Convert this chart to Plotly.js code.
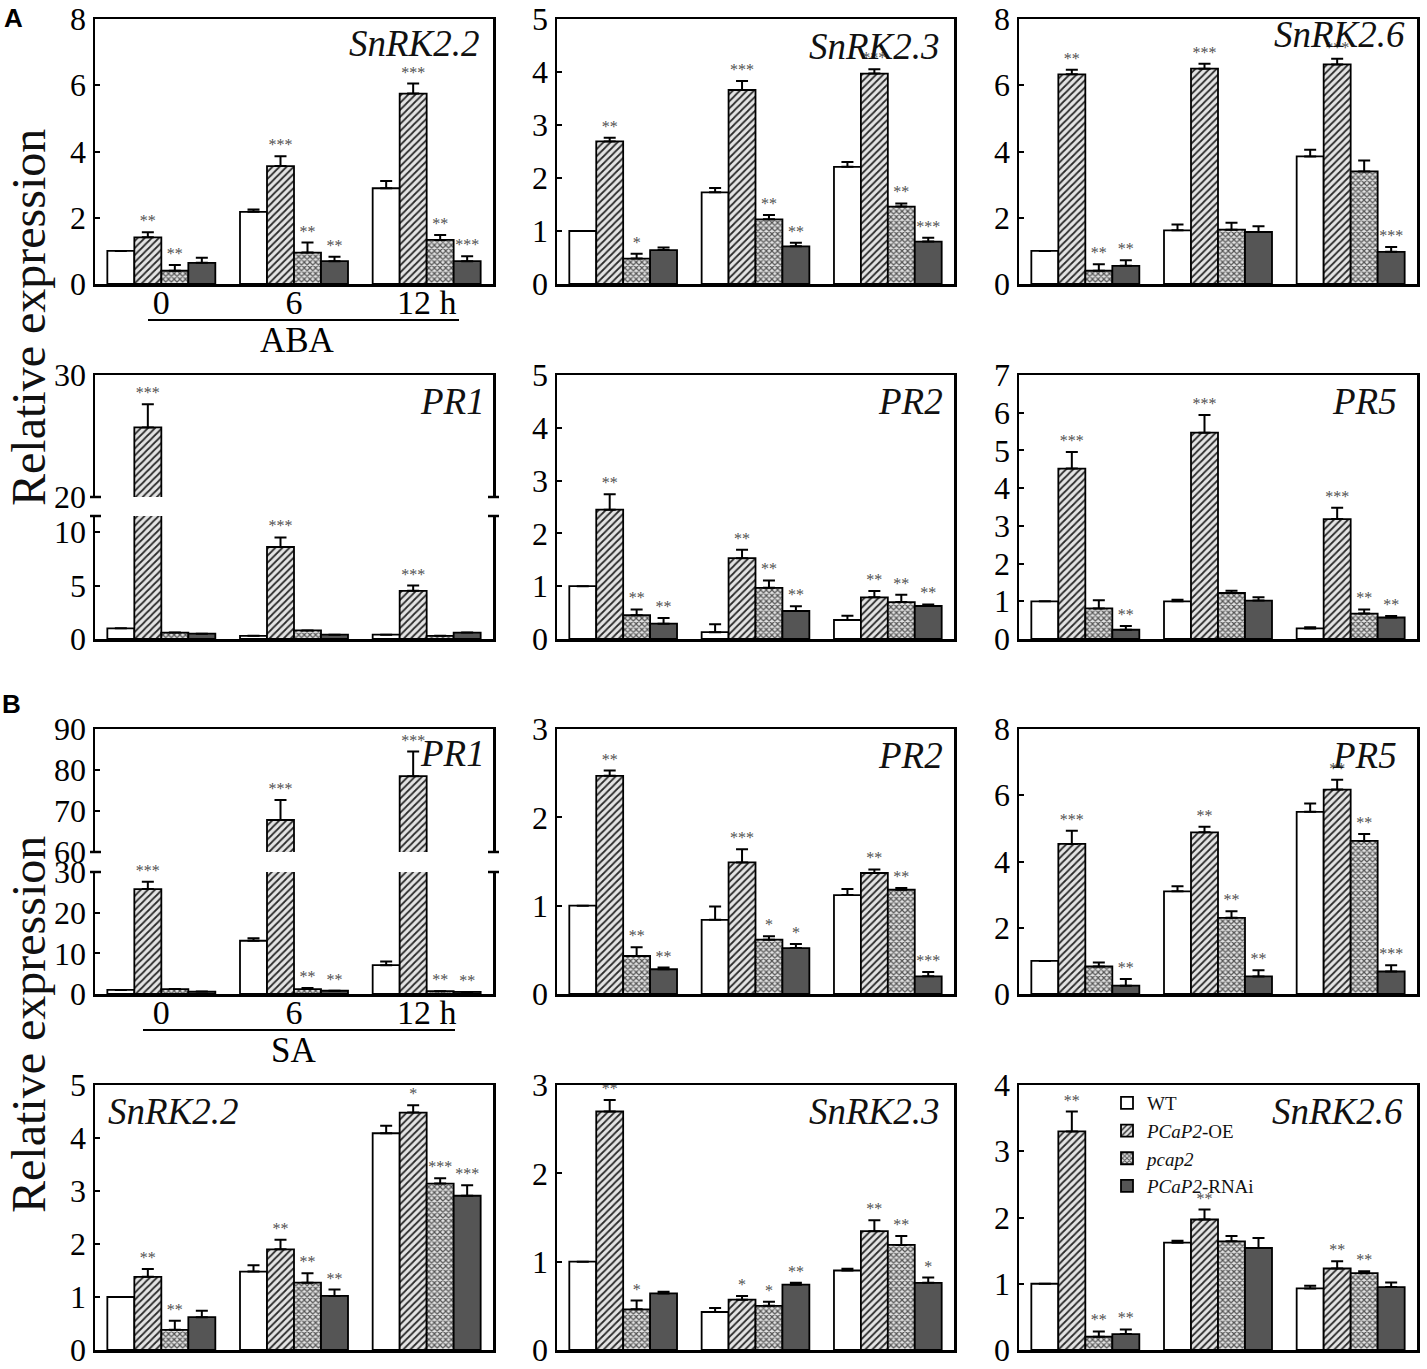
<!DOCTYPE html>
<html>
<head>
<meta charset="utf-8">
<script src="https://cdn.plot.ly/plotly-3.0.1.min.js"></script>
<style>html,body{margin:0;padding:0;background:#fff;}#chart{width:1427px;height:1369px;}</style>
</head>
<body>
<div id="chart"></div>
<script>
// ---------------- DATA ----------------
const groups = ['0', '6', '12 h'];
const seriesNames = ['WT', '<i>PCaP2</i>-OE', '<i>pcap2</i>', '<i>PCaP2</i>-RNAi'];

// order of each array: [WT, PCaP2-OE, pcap2, PCaP2-RNAi], each [0 h, 6 h, 12 h]
const A_SnRK22_val = [[1.0, 2.18, 2.89], [1.41, 3.56, 5.75], [0.40, 0.95, 1.33], [0.64, 0.69, 0.69]];
const A_SnRK22_err = [[0, 0.07, 0.22], [0.15, 0.30, 0.30], [0.17, 0.30, 0.15], [0.15, 0.13, 0.15]];
const A_SnRK22_sig = [['', '', ''], ['**', '***', '***'], ['**', '**', '**'], ['', '**', '***']];

const A_SnRK23_val = [[1.0, 1.73, 2.21], [2.69, 3.66, 3.97], [0.48, 1.22, 1.46], [0.64, 0.71, 0.80]];
const A_SnRK23_err = [[0, 0.08, 0.09], [0.07, 0.17, 0.08], [0.09, 0.08, 0.06], [0.05, 0.07, 0.075]];
const A_SnRK23_sig = [['', '', ''], ['**', '***', '***'], ['*', '**', '**'], ['', '**', '***']];

const A_SnRK26_val = [[1.0, 1.62, 3.85], [6.33, 6.50, 6.63], [0.40, 1.64, 3.40], [0.55, 1.57, 0.97]];
const A_SnRK26_err = [[0, 0.18, 0.20], [0.14, 0.15, 0.17], [0.20, 0.21, 0.33], [0.17, 0.17, 0.15]];
const A_SnRK26_sig = [['', '', ''], ['**', '***', '***'], ['**', '', ''], ['**', '', '***']];

const A_PR1_val = [[1.0, 0.3, 0.4], [25.7, 8.6, 4.5], [0.6, 0.8, 0.3], [0.5, 0.4, 0.6]];
const A_PR1_err = [[0, 0, 0], [1.9, 0.9, 0.5], [0, 0, 0], [0, 0, 0]];
const A_PR1_sig = [['', '', ''], ['***', '***', '***'], ['', '', ''], ['', '', '']];

const A_PR2_val = [[1.0, 0.13, 0.36], [2.45, 1.53, 0.79], [0.45, 0.97, 0.70], [0.29, 0.53, 0.625]];
const A_PR2_err = [[0, 0.15, 0.08], [0.29, 0.16, 0.12], [0.11, 0.14, 0.14], [0.11, 0.09, 0.03]];
const A_PR2_sig = [['', '', ''], ['**', '**', '**'], ['**', '**', '**'], ['**', '**', '**']];

const A_PR5_val = [[1.0, 1.0, 0.28], [4.52, 5.47, 3.18], [0.81, 1.22, 0.675], [0.245, 1.02, 0.57]];
const A_PR5_err = [[0, 0.04, 0.03], [0.44, 0.47, 0.30], [0.22, 0.06, 0.11], [0.10, 0.09, 0.04]];
const A_PR5_sig = [['', '', ''], ['***', '***', '***'], ['', '', '**'], ['**', '', '**']];

const B_PR1_val = [[1.0, 13.1, 7.1], [25.8, 67.8, 78.5], [1.2, 1.2, 0.7], [0.6, 0.8, 0.5]];
const B_PR1_err = [[0, 0.6, 0.9], [1.8, 4.9, 6.0], [0, 0.3, 0], [0, 0, 0]];
const B_PR1_sig = [['', '', ''], ['***', '***', '***'], ['', '**', '**'], ['', '**', '**']];

const B_PR2_val = [[1.0, 0.84, 1.12], [2.47, 1.49, 1.37], [0.43, 0.615, 1.18], [0.28, 0.52, 0.20]];
const B_PR2_err = [[0, 0.15, 0.07], [0.06, 0.15, 0.04], [0.10, 0.04, 0.02], [0.02, 0.045, 0.05]];
const B_PR2_sig = [['', '', ''], ['**', '***', '**'], ['**', '*', '**'], ['**', '*', '***']];

const B_PR5_val = [[1.0, 3.10, 5.50], [4.53, 4.88, 6.17], [0.83, 2.30, 4.62], [0.25, 0.53, 0.68]];
const B_PR5_err = [[0, 0.15, 0.25], [0.40, 0.17, 0.30], [0.12, 0.20, 0.21], [0.20, 0.19, 0.19]];
const B_PR5_sig = [['', '', ''], ['***', '**', '**'], ['', '**', '**'], ['**', '**', '***']];

const B_SnRK22_val = [[1.0, 1.48, 4.09], [1.38, 1.90, 4.48], [0.38, 1.27, 3.14], [0.62, 1.02, 2.91]];
const B_SnRK22_err = [[0, 0.12, 0.14], [0.15, 0.18, 0.14], [0.17, 0.18, 0.10], [0.12, 0.12, 0.20]];
const B_SnRK22_sig = [['', '', ''], ['**', '**', '*'], ['**', '**', '***'], ['', '**', '***']];

const B_SnRK23_val = [[1.0, 0.43, 0.90], [2.70, 0.57, 1.345], [0.46, 0.50, 1.19], [0.64, 0.74, 0.76]];
const B_SnRK23_err = [[0, 0.045, 0.02], [0.13, 0.04, 0.125], [0.10, 0.045, 0.10], [0.02, 0.02, 0.06]];
const B_SnRK23_sig = [['', '', ''], ['**', '*', '**'], ['*', '*', '**'], ['', '**', '*']];

const B_SnRK26_val = [[1.0, 1.62, 0.93], [3.30, 1.97, 1.23], [0.20, 1.64, 1.16], [0.24, 1.54, 0.95]];
const B_SnRK26_err = [[0, 0.03, 0.04], [0.30, 0.15, 0.11], [0.08, 0.08, 0.03], [0.07, 0.15, 0.07]];
const B_SnRK26_sig = [['', '', ''], ['**', '**', '**'], ['**', '', '**'], ['**', '', '']];

// ---------------- LAYOUT / STYLE ----------------
const W = 1427, H = 1369;
const fx = p => p / W;
const fy = p => 1 - p / H;
const SERIF = "'Liberation Serif', 'Times New Roman', serif";

const cols = [[95, 493], [557, 954], [1019, 1417]];
const rows = [[19, 284], [375, 639], [729, 994], [1085, 1350]];

const barStyles = [
  {color: '#ffffff', line: {color: '#000', width: 1.8}},
  {color: '#dcdcdc', line: {color: '#000', width: 1.8},
   pattern: {shape: '/', fgcolor: '#2a2a2a', bgcolor: '#e4e4e4', size: 5, solidity: 0.35}},
  {color: '#bdbdbd', line: {color: '#000', width: 1.8},
   pattern: {shape: 'x', fgcolor: '#555555', bgcolor: '#e2e2e2', size: 4, solidity: 0.5}},
  {color: '#555555', line: {color: '#000', width: 1.8}}
];

const panels = [
  {name: 'SnRK2.2', val: A_SnRK22_val, err: A_SnRK22_err, sig: A_SnRK22_sig, row: 0, col: 0, xlabels: true,
   segs: [{range: [0, 8], ticks: [0, 2, 4, 6, 8]}], title: {x: 482, y: 43, anchor: 'right'}},
  {name: 'SnRK2.3', val: A_SnRK23_val, err: A_SnRK23_err, sig: A_SnRK23_sig, row: 0, col: 1,
   segs: [{range: [0, 5], ticks: [0, 1, 2, 3, 4, 5]}], title: {x: 942, y: 46, anchor: 'right'}},
  {name: 'SnRK2.6', val: A_SnRK26_val, err: A_SnRK26_err, sig: A_SnRK26_sig, row: 0, col: 2,
   segs: [{range: [0, 8], ticks: [0, 2, 4, 6, 8]}], title: {x: 1407, y: 34, anchor: 'right'}},
  {name: 'PR1', val: A_PR1_val, err: A_PR1_err, sig: A_PR1_sig, row: 1, col: 0,
   segs: [{range: [20, 30], ticks: [20, 30], y: [375, 497], upper: true},
          {range: [0, 11.5], ticks: [0, 5, 10], y: [516, 639]}], title: {x: 487, y: 402, anchor: 'right'}},
  {name: 'PR2', val: A_PR2_val, err: A_PR2_err, sig: A_PR2_sig, row: 1, col: 1,
   segs: [{range: [0, 5], ticks: [0, 1, 2, 3, 4, 5]}], title: {x: 945, y: 402, anchor: 'right'}},
  {name: 'PR5', val: A_PR5_val, err: A_PR5_err, sig: A_PR5_sig, row: 1, col: 2,
   segs: [{range: [0, 7], ticks: [0, 1, 2, 3, 4, 5, 6, 7]}], title: {x: 1399, y: 402, anchor: 'right'}},
  {name: 'PR1', val: B_PR1_val, err: B_PR1_err, sig: B_PR1_sig, row: 2, col: 0, xlabels: true,
   segs: [{range: [60, 90], ticks: [60, 70, 80, 90], y: [729, 852], upper: true},
          {range: [0, 30], ticks: [0, 10, 20, 30], y: [872, 994]}], title: {x: 487, y: 753, anchor: 'right'}},
  {name: 'PR2', val: B_PR2_val, err: B_PR2_err, sig: B_PR2_sig, row: 2, col: 1,
   segs: [{range: [0, 3], ticks: [0, 1, 2, 3]}], title: {x: 945, y: 755, anchor: 'right'}},
  {name: 'PR5', val: B_PR5_val, err: B_PR5_err, sig: B_PR5_sig, row: 2, col: 2,
   segs: [{range: [0, 8], ticks: [0, 2, 4, 6, 8]}], title: {x: 1399, y: 755, anchor: 'right'}},
  {name: 'SnRK2.2', val: B_SnRK22_val, err: B_SnRK22_err, sig: B_SnRK22_sig, row: 3, col: 0,
   segs: [{range: [0, 5], ticks: [0, 1, 2, 3, 4, 5]}], title: {x: 106, y: 1111, anchor: 'left'}},
  {name: 'SnRK2.3', val: B_SnRK23_val, err: B_SnRK23_err, sig: B_SnRK23_sig, row: 3, col: 1,
   segs: [{range: [0, 3], ticks: [0, 1, 2, 3]}], title: {x: 942, y: 1111, anchor: 'right'}},
  {name: 'SnRK2.6', val: B_SnRK26_val, err: B_SnRK26_err, sig: B_SnRK26_sig, row: 3, col: 2, legend: true,
   segs: [{range: [0, 4], ticks: [0, 1, 2, 3, 4]}], title: {x: 1405, y: 1111, anchor: 'right'}}
];

const traces = [];
const layout = {
  width: W, height: H,
  margin: {l: 0, r: 0, t: 0, b: 0},
  paper_bgcolor: '#fff', plot_bgcolor: 'rgba(0,0,0,0)',
  barmode: 'group', bargap: 0.186, bargroupgap: 0,
  font: {family: SERIF, color: '#000'},
  showlegend: true,
  legend: {x: fx(1107), y: fy(1084), xanchor: 'left', yanchor: 'top',
           bgcolor: 'rgba(0,0,0,0)', font: {family: SERIF, size: 19, color: '#111'},
           tracegroupgap: 0, itemwidth: 30, traceorder: 'normal'},
  annotations: [], shapes: []
};

let k = 0;
panels.forEach(p => {
  const [c0, c1] = cols[p.col];
  const broken = p.segs.length > 1;
  p.segs.forEach((seg, si) => {
    k++;
    const xa = 'x' + k, ya = 'y' + k;
    const yr = seg.y || rows[p.row];
    const isLowest = si === p.segs.length - 1;
    layout['xaxis' + k] = {
      type: 'category', categoryarray: groups, range: [-0.5, 2.5],
      domain: [fx(c0), fx(c1)], anchor: ya,
      side: seg.upper ? 'top' : 'bottom',
      showline: true, linewidth: 2.5, linecolor: '#000', mirror: !broken,
      ticks: '', showgrid: false, zeroline: false,
      showticklabels: !!(p.xlabels && isLowest), ticklabelstandoff: -13,
      tickfont: {family: SERIF, size: 34, color: '#000'}, fixedrange: true
    };
    layout['yaxis' + k] = {
      domain: [fy(yr[1]), fy(yr[0])], anchor: xa, range: seg.range,
      tickmode: 'array', tickvals: seg.ticks,
      ticks: 'inside', ticklen: 5, tickwidth: 2, tickcolor: '#000',
      showline: true, linewidth: 2.5, linecolor: '#000', mirror: true,
      showgrid: false, zeroline: false,
      tickfont: {family: SERIF, size: 32, color: '#000'}, fixedrange: true
    };
    for (let s = 0; s < 4; s++) {
      traces.push({
        type: 'bar', x: groups, y: p.val[s], xaxis: xa, yaxis: ya,
        offsetgroup: 's' + s, name: seriesNames[s],
        marker: barStyles[s],
        error_y: {type: 'data', array: p.err[s], arrayminus: [0, 0, 0], symmetric: false,
                  color: '#000', thickness: 2, width: 6},
        showlegend: !!(p.legend && isLowest), legendgroup: 's' + s,
        hoverinfo: 'skip'
      });
    }
    for (let s = 0; s < 4; s++) {
      const tops = p.val[s].map((v, i) => v + p.err[s][i]);
      const txt = p.sig[s].map((t, i) => (tops[i] >= seg.range[0] && tops[i] <= seg.range[1]) ? t : '');
      traces.push({
        type: 'bar', x: groups, y: tops, xaxis: xa, yaxis: ya,
        offsetgroup: 's' + s, text: txt, textposition: 'outside', cliponaxis: false,
        constraintext: 'none', textangle: 0,
        textfont: {family: SERIF, size: 16, color: '#505050'},
        marker: {color: 'rgba(0,0,0,0)', line: {width: 0}},
        showlegend: false, hoverinfo: 'skip'
      });
    }
  });
  // break caps for broken axes
  if (broken) {
    const yy = [p.segs[0].y[1], p.segs[1].y[0]];
    yy.forEach(y => {
      [c0, c1].forEach(x => {
        layout.shapes.push({type: 'line', xref: 'paper', yref: 'paper',
          x0: fx(x - 5), x1: fx(x + 6), y0: fy(y), y1: fy(y),
          line: {color: '#000', width: 2.5}});
      });
    });
  }
  layout.annotations.push({
    xref: 'paper', yref: 'paper', x: fx(p.title.x), y: fy(p.title.y),
    xanchor: p.title.anchor, yanchor: 'middle', showarrow: false,
    text: '<i>' + p.name + '</i>', font: {family: SERIF, size: 37, color: '#111'}
  });
});

// treatment underlines and labels
layout.shapes.push({type: 'line', xref: 'paper', yref: 'paper', x0: fx(148), x1: fx(459), y0: fy(320), y1: fy(320), line: {color: '#000', width: 2}});
layout.shapes.push({type: 'line', xref: 'paper', yref: 'paper', x0: fx(143), x1: fx(455), y0: fy(1030), y1: fy(1030), line: {color: '#000', width: 2}});
layout.annotations.push({xref: 'paper', yref: 'paper', x: fx(297), y: fy(340), text: 'ABA', showarrow: false,
  xanchor: 'center', yanchor: 'middle', font: {family: SERIF, size: 35, color: '#000'}});
layout.annotations.push({xref: 'paper', yref: 'paper', x: fx(293), y: fy(1050), text: 'SA', showarrow: false,
  xanchor: 'center', yanchor: 'middle', font: {family: SERIF, size: 35, color: '#000'}});

// y titles
layout.annotations.push({xref: 'paper', yref: 'paper', x: fx(28), y: fy(318), text: 'Relative expression', showarrow: false,
  textangle: -90, xanchor: 'center', yanchor: 'middle', font: {family: SERIF, size: 48, color: '#111'}});
layout.annotations.push({xref: 'paper', yref: 'paper', x: fx(28), y: fy(1025), text: 'Relative expression', showarrow: false,
  textangle: -90, xanchor: 'center', yanchor: 'middle', font: {family: SERIF, size: 48, color: '#111'}});

// panel letters
layout.annotations.push({xref: 'paper', yref: 'paper', x: fx(2), y: fy(18), text: '<b>A</b>', showarrow: false,
  xanchor: 'left', yanchor: 'middle', font: {family: 'Liberation Sans, Arial, sans-serif', size: 26, color: '#000'}});
layout.annotations.push({xref: 'paper', yref: 'paper', x: fx(0), y: fy(704), text: '<b>B</b>', showarrow: false,
  xanchor: 'left', yanchor: 'middle', font: {family: 'Liberation Sans, Arial, sans-serif', size: 26, color: '#000'}});

Plotly.newPlot('chart', traces, layout, {displayModeBar: false, staticPlot: true});
</script>
</body>
</html>
